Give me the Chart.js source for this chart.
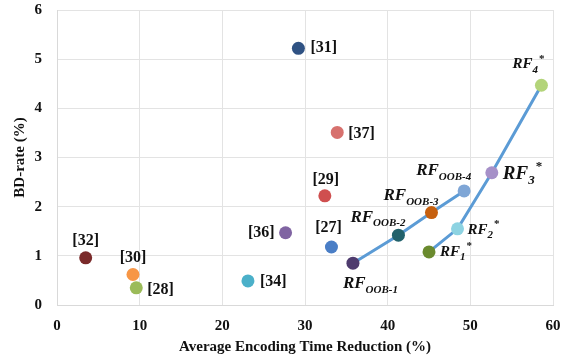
<!DOCTYPE html>
<html>
<head>
<meta charset="utf-8">
<script src="https://cdn.jsdelivr.net/npm/chart.js@4/dist/chart.umd.min.js"></script>
<style>
  html, body { margin: 0; padding: 0; background: #fff; }
  #wrap { width: 577px; height: 360px; }
</style>
</head>
<body>
<div id="wrap"><canvas id="chart" width="577" height="360"></canvas></div>
<script>
// data
const refNames = ['[31]', '[37]', '[29]', '[36]', '[27]', '[34]', '[32]', '[30]', '[28]'];
const refTime  = [29.2, 33.9, 32.4, 27.65, 33.2, 23.1, 3.47, 9.19, 9.59];
const refBD    = [5.22, 3.51, 2.22, 1.47, 1.18, 0.49, 0.96, 0.62, 0.35];

const oobNames = ['OOB-1', 'OOB-2', 'OOB-3', 'OOB-4'];
const oobTime  = [35.8, 41.3, 45.3, 49.25];
const oobBD    = [0.85, 1.42, 1.88, 2.32];

const rfNames = ['1', '2', '3', '4'];
const rfTime  = [45.0, 48.45, 52.6, 58.6];
const rfBD    = [1.08, 1.55, 2.69, 4.47];

const xTicks = [0, 10, 20, 30, 40, 50, 60];
const yTicks = [0, 1, 2, 3, 4, 5, 6];

// styles
const refColors = ['#2f5283', '#d7716e', '#cf4f4f', '#8064a2', '#4a7ec6', '#4bb0c9', '#7a2a2a', '#f79646', '#9bbb59'];
const oobColors = ['#4e3b6e', '#22626c', '#c6600f', '#7fa6d6'];
const rfColors  = ['#6a8a2e', '#8dd3e2', '#a690c8', '#b3d47a'];
const lineColor = '#5b9bd5';

// label placement: [dx, dy, align] for refs, [dx, dy, size, subRatio] for RF labels
const refLabelPos = [
  [12, 0, 'left'], [11, 1, 'left'], [1, -16, 'center'], [-11, 0, 'right'], [-3, -19, 'center'],
  [12, 1, 'left'], [0, -17, 'center'], [0, -17, 'center'], [11, 2, 'left']
];
const oobLabelPos = [[-10, 20, 17, 0.65], [-48, -18, 17, 0.65], [-48, -17, 17, 0.65], [-48, -20, 17, 0.65]];
const rfLabelPos  = [[11, 0, 15, 0.7], [10, 1, 15, 0.7], [11, 1, 19, 0.7], [-29, -21, 15, 0.7]];

function pts(xs, ys) {
  return xs.map((x, i) => ({ x: x, y: ys[i] }));
}

const serif = '"Liberation Serif", "Times New Roman", serif';

const labelPlugin = {
  id: 'pointLabels',
  afterDatasetsDraw(chart) {
    const ctx = chart.ctx;
    ctx.save();
    ctx.fillStyle = '#111';
    ctx.textBaseline = 'middle';

    // reference points
    const m0 = chart.getDatasetMeta(0).data;
    refNames.forEach((name, i) => {
      const p = m0[i], o = refLabelPos[i];
      ctx.font = 'bold 16px ' + serif;
      ctx.textAlign = o[2];
      ctx.fillText(name, p.x + o[0], p.y + o[1]);
    });

    // RF_OOB-k and RF_k* labels
    function rfLabel(x, y, size, ratio, sub, star) {
      ctx.textAlign = 'left';
      ctx.font = 'italic bold ' + size + 'px ' + serif;
      ctx.fillText('RF', x, y);
      const w = ctx.measureText('RF').width;
      const subSize = Math.round(size * ratio);
      ctx.font = 'italic bold ' + subSize + 'px ' + serif;
      ctx.fillText(sub, x + w, y + size * 0.38);
      const sw = ctx.measureText(sub).width;
      if (star) {
        ctx.font = 'bold ' + subSize + 'px ' + serif;
        ctx.fillText('*', x + w + sw + 1, y - size * 0.35);
      }
    }

    const m1 = chart.getDatasetMeta(1).data;
    oobNames.forEach((s, i) => {
      const p = m1[i], o = oobLabelPos[i];
      rfLabel(p.x + o[0], p.y + o[1], o[2], o[3], s, false);
    });
    const m2 = chart.getDatasetMeta(2).data;
    rfNames.forEach((s, i) => {
      const p = m2[i], o = rfLabelPos[i];
      rfLabel(p.x + o[0], p.y + o[1], o[2], o[3], s, true);
    });
    ctx.restore();
  }
};

const ctx = document.getElementById('chart').getContext('2d');
const chart = new Chart(ctx, {
  type: 'scatter',
  data: {
    datasets: [
      {
        label: 'refs',
        data: pts(refTime, refBD),
        backgroundColor: refColors,
        borderWidth: 0,
        pointRadius: 6.5,
        order: 3
      },
      {
        label: 'OOB',
        data: pts(oobTime, oobBD),
        showLine: true,
        borderColor: lineColor,
        borderWidth: 3,
        backgroundColor: oobColors,
        pointBorderWidth: 0,
        pointRadius: 6.5,
        order: 2
      },
      {
        label: 'RF',
        data: pts(rfTime, rfBD),
        showLine: true,
        borderColor: lineColor,
        borderWidth: 3,
        backgroundColor: rfColors,
        pointBorderWidth: 0,
        pointRadius: 6.5,
        order: 1
      }
    ]
  },
  options: {
    responsive: false,
    animation: false,
    layout: { padding: { top: 10, right: 24, left: 0, bottom: 0 } },
    plugins: { legend: { display: false }, tooltip: { enabled: false } },
    scales: {
      x: {
        type: 'linear',
        min: 0, max: 60,
        afterFit(scale) { scale.height = 55; scale.paddingLeft = 0; scale.paddingRight = 0; },
        afterBuildTicks(scale) { scale.ticks = xTicks.map(v => ({ value: v })); },
        grid: { color: '#e3e3e3', drawTicks: false, lineWidth: 1 },
        border: { color: '#d9d9d9' },
        ticks: { color: '#111', padding: 12, font: { family: serif, size: 15, weight: 'bold' } },
        title: {
          display: true,
          text: 'Average Encoding Time Reduction (%)',
          color: '#111',
          font: { family: serif, size: 15, weight: 'bold' },
          padding: { top: 0, bottom: 4 }
        }
      },
      y: {
        type: 'linear',
        min: 0, max: 6,
        afterFit(scale) { scale.width = 57; scale.paddingTop = 0; scale.paddingBottom = 0; },
        afterBuildTicks(scale) { scale.ticks = yTicks.map(v => ({ value: v })); },
        grid: { color: '#e3e3e3', drawTicks: false, lineWidth: 1 },
        border: { color: '#d9d9d9' },
        ticks: { color: '#111', padding: 15, font: { family: serif, size: 15, weight: 'bold' } },
        title: {
          display: true,
          text: 'BD-rate (%)',
          color: '#111',
          font: { family: serif, size: 15, weight: 'bold' },
          padding: { top: 11, bottom: 0 }
        }
      }
    }
  },
  plugins: [labelPlugin]
});
</script>
</body>
</html>
